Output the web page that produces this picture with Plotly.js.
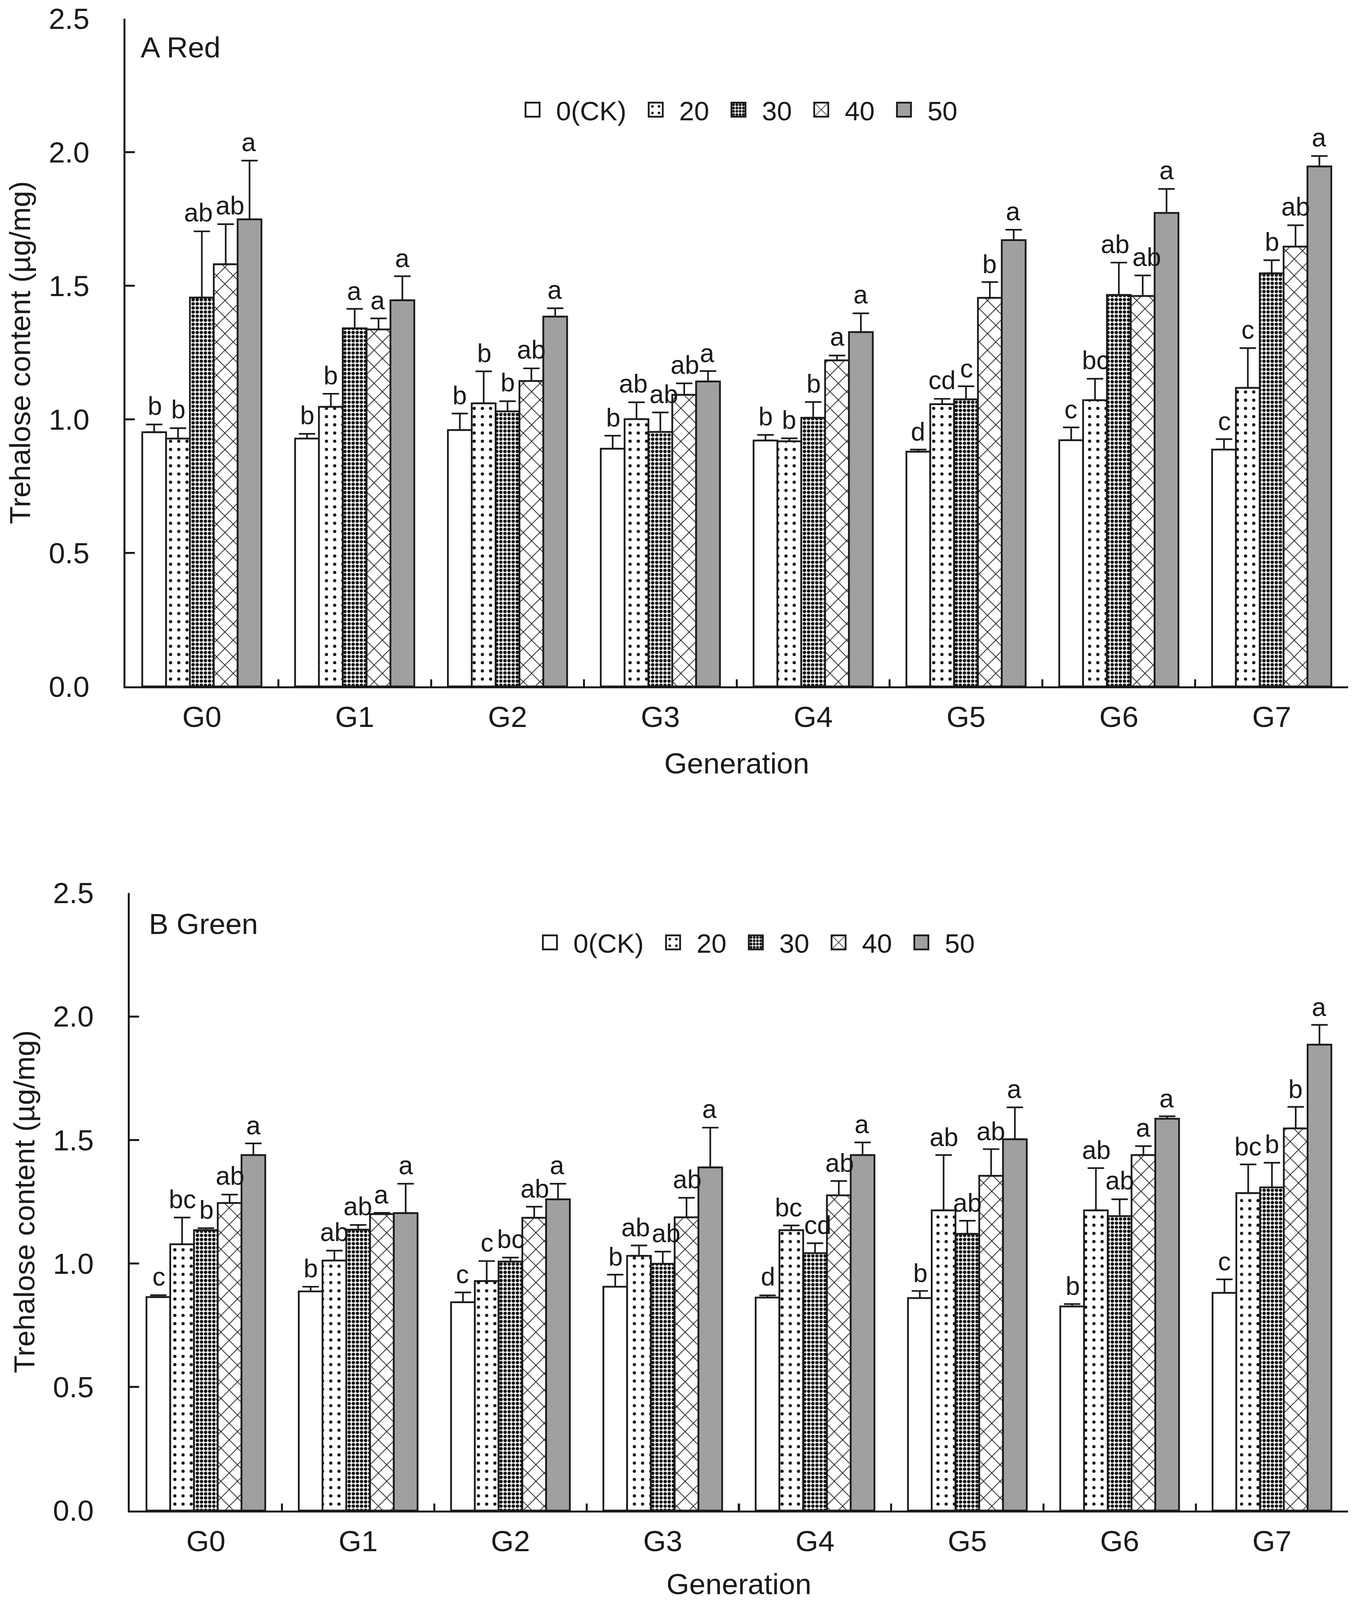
<!DOCTYPE html>
<html><head><meta charset="utf-8">
<script src="https://cdn.plot.ly/plotly-3.0.1.min.js"></script>
<style>
html,body{margin:0;padding:0;background:#fff;}
#chart{transform-origin:0 0;}
</style>
</head><body><div id="chart"></div>
<script>
// ---------------- data ----------------
const generations = ["G0","G1","G2","G3","G4","G5","G6","G7"];
const seriesNames = ["0(CK)","20","30","40","50"];

// A Red
const redCK  = [0.952, 0.928, 0.960, 0.890, 0.921, 0.879, 0.922, 0.887];
const red20  = [0.928, 1.047, 1.060, 1.001, 0.918, 1.057, 1.072, 1.118];
const red30  = [1.456, 1.341, 1.030, 0.953, 1.006, 1.075, 1.466, 1.547];
const red40  = [1.581, 1.337, 1.144, 1.092, 1.221, 1.455, 1.462, 1.647];
const red50  = [1.749, 1.446, 1.385, 1.142, 1.327, 1.671, 1.773, 1.947];
const redErrCK = [0.029, 0.018, 0.062, 0.049, 0.021, 0.008, 0.048, 0.039];
const redErr20 = [0.039, 0.049, 0.120, 0.063, 0.011, 0.020, 0.080, 0.149];
const redErr30 = [0.248, 0.073, 0.038, 0.073, 0.059, 0.049, 0.121, 0.049];
const redErr40 = [0.150, 0.041, 0.047, 0.043, 0.018, 0.059, 0.077, 0.080];
const redErr50 = [0.220, 0.090, 0.031, 0.039, 0.070, 0.039, 0.090, 0.039];
const redSigCK = ["b","b","b","b","b","d","c","c"];
const redSig20 = ["b","b","b","ab","b","cd","bc","c"];
const redSig30 = ["ab","a","b","ab","b","c","ab","b"];
const redSig40 = ["ab","a","ab","ab","a","b","ab","ab"];
const redSig50 = ["a","a","a","a","a","a","a","a"];

// B Green
const greenCK  = [0.864, 0.887, 0.843, 0.906, 0.862, 0.860, 0.826, 0.881];
const green20  = [1.078, 1.012, 0.929, 1.031, 1.135, 1.215, 1.215, 1.285];
const green30  = [1.135, 1.137, 1.008, 0.999, 1.042, 1.120, 1.192, 1.308];
const green40  = [1.245, 1.200, 1.185, 1.187, 1.276, 1.355, 1.439, 1.547];
const green50  = [1.439, 1.204, 1.260, 1.389, 1.439, 1.503, 1.586, 1.886];
const greenErrCK = [0.008, 0.019, 0.040, 0.049, 0.009, 0.029, 0.010, 0.055];
const greenErr20 = [0.108, 0.040, 0.081, 0.042, 0.019, 0.224, 0.171, 0.116];
const greenErr30 = [0.008, 0.019, 0.016, 0.049, 0.040, 0.053, 0.068, 0.100];
const greenErr40 = [0.034, 0.005, 0.045, 0.079, 0.058, 0.108, 0.036, 0.087];
const greenErr50 = [0.047, 0.119, 0.063, 0.161, 0.051, 0.129, 0.010, 0.080];
const greenSigCK = ["c","b","c","b","d","b","b","c"];
const greenSig20 = ["bc","ab","c","ab","bc","ab","ab","bc"];
const greenSig30 = ["b","ab","bc","ab","cd","ab","ab","b"];
const greenSig40 = ["ab","a","ab","ab","ab","ab","a","b"];
const greenSig50 = ["a","a","a","a","a","a","a","a"];

const panelLabels = ["A Red", "B Green"];
const yTitle = "Trehalose content (µg/mg)";
const xTitle = "Generation";

// ---------------- page geometry ----------------
const VW = Math.min(window.innerWidth || 3483, 3483);
const VH = Math.min(window.innerHeight || 4242, 4242);
const S = VW / 1161;               // css scale factor (3 at full size)
const BW = 1161, BH = VH / S;       // base layout size
const fy = BH / 1414;               // vertical fit factor
document.documentElement.style.width = VW + "px";
document.documentElement.style.height = VH + "px";
document.body.style.width = VW + "px";
document.body.style.height = VH + "px";
const chartDiv = document.getElementById("chart");
chartDiv.style.width = BW + "px";
chartDiv.style.height = BH + "px";
chartDiv.style.transform = "scale(" + S + ")";

const M = {l:106.7, r:11.3, t:16.3*fy, b:78.7*fy};
const plotW = BW - M.l - M.r, plotH = BH - M.t - M.b;

// ---------------- styles ----------------
const FONT = "Liberation Sans, Arial, sans-serif";
const INK = "#1a1a1a";
const BARGAP = 0.22;
const SIG_FS = 22;
const styles = [
  {color:"#ffffff", pattern:{shape:""}},
  {color:"#ffffff", pattern:{shape:".", fgcolor:"#111", bgcolor:"#ffffff", size:7, solidity:0.12, fillmode:"replace"}},
  {color:"#ffffff", pattern:{shape:".", fgcolor:"#111", bgcolor:"#ffffff", size:3.5, solidity:0.55, fillmode:"replace"}},
  {color:"#ffffff", pattern:{shape:"x", fgcolor:"#111", bgcolor:"#ffffff", size:10, solidity:0.12, fillmode:"replace"}},
  {color:"#a0a0a0", pattern:{shape:""}}
];

const panels = [
  {means:[redCK,red20,red30,red40,red50], errs:[redErrCK,redErr20,redErr30,redErr40,redErr50],
   sig:[redSigCK,redSig20,redSig30,redSig40,redSig50], xa:"x", ya:"y", legend:"legend",
   domX:[0,1], domY:[0.5524,1]},
  {means:[greenCK,green20,green30,green40,green50], errs:[greenErrCK,greenErr20,greenErr30,greenErr40,greenErr50],
   sig:[greenSigCK,greenSig20,greenSig30,greenSig40,greenSig50], xa:"x2", ya:"y2", legend:"legend2",
   domX:[0.0035,1], domY:[0,0.4140]}
];

const traces = [];
const annotations = [];
const nS = seriesNames.length;
const barW = (1 - BARGAP) / nS;
const charW = {a:0.556, b:0.556, c:0.5, d:0.556};
const textW = s => s.split("").reduce((t, ch) => t + (charW[ch] || 0.556), 0) * SIG_FS;

panels.forEach((p, pi) => {
  const unitPx = (p.domY[1]-p.domY[0]) * plotH / 2.5;
  const spacingPx = (p.domX[1]-p.domX[0]) * plotW / generations.length * barW;
  seriesNames.forEach((name, j) => {
    traces.push({
      type:"bar", name:name, x:generations, y:p.means[j],
      xaxis:p.xa, yaxis:p.ya, legend:p.legend,
      marker:{color:styles[j].color, pattern:styles[j].pattern, line:{color:INK, width:1.5}},
      error_y:{type:"data", symmetric:false, array:p.errs[j], arrayminus:p.errs[j].map(()=>0),
               color:INK, thickness:1.4, width:7}
    });
  });
  generations.forEach((g, i) => {
    const tops = seriesNames.map((_, j) => p.means[j][i] + p.errs[j][i]);
    const widths = seriesNames.map((_, j) => textW(p.sig[j][i]));
    const shifts = seriesNames.map(() => 0);
    for (let j = 0; j < nS - 1; j++) {
      const dy = Math.abs(tops[j] - tops[j+1]) * unitPx;
      if (dy < 0.8 * SIG_FS) {
        const need = (widths[j] + widths[j+1]) / 2 + 2 - spacingPx;
        if (need > 0) { shifts[j] -= need / 2; shifts[j+1] += need / 2; }
      }
    }
    seriesNames.forEach((_, j) => {
      annotations.push({
        xref:p.xa, yref:p.ya, x:i + (j - (nS-1)/2) * barW, y:tops[j],
        text:p.sig[j][i], showarrow:false, yanchor:"bottom", xanchor:"center", yshift:1, xshift:shifts[j],
        font:{family:FONT, size:SIG_FS, color:INK}
      });
    });
  });
});

annotations.push({xref:"paper", yref:"paper", x:0.011, y:0.9815, xanchor:"left", yanchor:"middle",
  text:panelLabels[0], showarrow:false, font:{family:FONT, size:25, color:INK}});
annotations.push({xref:"paper", yref:"paper", x:0.0175, y:0.3932, xanchor:"left", yanchor:"middle",
  text:panelLabels[1], showarrow:false, font:{family:FONT, size:25, color:INK}});

function yAxis(domain, anchor){
  return {domain:domain, anchor:anchor, range:[0,2.5], dtick:0.5, tickformat:".1f",
    ticks:"inside", ticklen:8, tickwidth:1.7, tickcolor:INK, showline:true, linewidth:1.7, linecolor:INK,
    showgrid:false, zeroline:false, ticklabelstandoff:24,
    tickfont:{family:FONT, size:25, color:INK},
    title:{text:yTitle, standoff:8, font:{family:FONT, size:25, color:INK}}};
}
function xAxis(domain, anchor){
  return {domain:domain, anchor:anchor, type:"category", tickson:"boundaries",
    ticks:"inside", ticklen:6, tickwidth:1.7, tickcolor:INK, showline:true, linewidth:1.7, linecolor:INK,
    showgrid:false, zeroline:false, ticklabelstandoff:3,
    tickfont:{family:FONT, size:25, color:INK},
    title:{text:xTitle, standoff:18, font:{family:FONT, size:25, color:INK}}};
}

const layout = {
  width:BW, height:BH,
  margin:{l:M.l, r:M.r, t:M.t, b:M.b, pad:0},
  paper_bgcolor:"#ffffff", plot_bgcolor:"#ffffff",
  barmode:"group", bargap:BARGAP, bargroupgap:0,
  font:{family:FONT, color:INK},
  xaxis:xAxis(panels[0].domX,"y"), yaxis:yAxis(panels[0].domY,"x"),
  xaxis2:xAxis(panels[1].domX,"y2"), yaxis2:yAxis(panels[1].domY,"x2"),
  legend:{orientation:"h", x:0.3138, y:0.939, xanchor:"left", yanchor:"middle",
          font:{family:FONT, size:23, color:INK}, bgcolor:"rgba(0,0,0,0)", borderwidth:0},
  legend2:{orientation:"h", x:0.328, y:0.3808, xanchor:"left", yanchor:"middle",
          font:{family:FONT, size:23, color:INK}, bgcolor:"rgba(0,0,0,0)", borderwidth:0},
  annotations:annotations,
  showlegend:true
};

Plotly.newPlot("chart", traces, layout, {staticPlot:true, displayModeBar:false});
</script></body></html>
